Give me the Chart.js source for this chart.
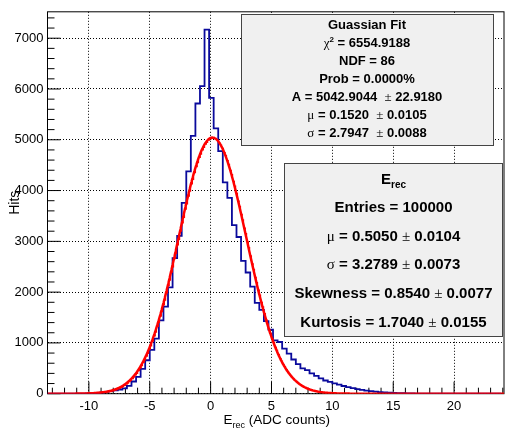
<!DOCTYPE html>
<html>
<head>
<meta charset="utf-8">
<script src="https://cdn.jsdelivr.net/npm/chart.js@4/dist/chart.umd.min.js"></script>
<style>
  html, body { margin: 0; padding: 0; background: #fff; }
  canvas { display: block; }
</style>
</head>
<body>
<canvas id="c" width="505" height="428"></canvas>
<script>
// E_rec histogram: bins of fixed width starting at binStart
const binStart = -13.625;
const binWidth = 0.375;
const hits = [
  0, 0, 0, 0, 0, 1, 1, 2, 3, 5,
  8, 14, 22, 35, 50, 68, 80, 105, 155, 240,
  333, 487, 659, 862, 1084, 1442, 1716, 2094, 2669, 3106,
  3757, 4378, 5076, 5714, 6057, 7170, 5826, 5225, 4775, 4162,
  3855, 3321, 3086, 2616, 2387, 2108, 1789, 1652, 1429, 1260,
  1051, 1018, 888, 790, 673, 581, 497, 464, 399, 352,
  301, 260, 232, 205, 180, 152, 128, 108, 92, 75,
  62, 50, 40, 32, 26, 20, 15, 12, 9, 6,
  5, 3, 2, 1, 0, 0, 0, 0, 0, 0,
  0, 0, 0, 0, 0, 0, 0, 0, 0, 0
];

// Axis ranges and labelled ticks
const xRange = [-13.4, 24.1];
const yRange = [0, 7520];
const xTickValues = [-10, -5, 0, 5, 10, 15, 20];
const yTickValues = [0, 1000, 2000, 3000, 4000, 5000, 6000, 7000];

// Gaussian fit result
const fitA = 5042.9044;
const fitMu = 0.1520;
const fitSigma = 2.7947;

// Stat box contents: [text, style]
const fitBoxLines = [
  [['Guassian Fit', 'b']],
  [['\u03C7', 'g'], ['2', 'sup'], [' = 6554.9188', 'b']],
  [['NDF = 86', 'b']],
  [['Prob = 0.0000%', 'b']],
  [['A = 5042.9044  ', 'b'], ['\u00B1', 'g'], [' 22.9180', 'b']],
  [['\u03BC', 'g'], [' = 0.1520  ', 'b'], ['\u00B1', 'g'], [' 0.0105', 'b']],
  [['\u03C3', 'g'], [' = 2.7947  ', 'b'], ['\u00B1', 'g'], [' 0.0088', 'b']]
];
const statBoxLines = [
  [['E', 'B'], ['rec', 'sub']],
  [['Entries = 100000', 'B']],
  [['\u03BC', 'G'], [' = 0.5050 ', 'B'], ['\u00B1', 'G'], [' 0.0104', 'B']],
  [['\u03C3', 'G'], [' = 3.2789 ', 'B'], ['\u00B1', 'G'], [' 0.0073', 'B']],
  [['Skewness = 0.8540 ', 'B'], ['\u00B1', 'G'], [' 0.0077', 'B']],
  [['Kurtosis = 1.7040 ', 'B'], ['\u00B1', 'G'], [' 0.0155', 'B']]
];
const xTitle = [['E', 't'], ['rec', 'tsub'], [' (ADC counts)', 't']];

const SANS = '"Liberation Sans", Arial, sans-serif';
const SERIF = '"Liberation Serif", "Times New Roman", serif';
const textStyles = {
  b:    { font: 'bold 13px ' + SANS, dy: 0 },
  g:    { font: '13px ' + SERIF, dy: 0 },
  sup:  { font: 'bold 8px ' + SANS, dy: -5 },
  B:    { font: 'bold 15px ' + SANS, dy: 0 },
  G:    { font: '15px ' + SERIF, dy: 0 },
  sub:  { font: 'bold 10px ' + SANS, dy: 4 },
  t:    { font: '13.5px ' + SANS, dy: 0 },
  tsub: { font: '9px ' + SANS, dy: 4 }
};

// Histogram outline points (step at each bin edge, closing at the last edge)
const histPoints = hits.map((h, i) => ({ x: binStart + i * binWidth, y: h }));
histPoints.push({ x: binStart + hits.length * binWidth, y: hits[hits.length - 1] });

// Fit curve evaluated from the fitted parameters
const fitPoints = [];
for (let x = xRange[0]; x <= xRange[1] + 1e-9; x += 0.05) {
  const z = (x - fitMu) / fitSigma;
  fitPoints.push({ x: x, y: fitA * Math.exp(-0.5 * z * z) });
}

function drawRich(ctx, segs, cx, baseline) {
  let total = 0;
  const widths = segs.map(([t, s]) => {
    ctx.font = textStyles[s].font;
    const w = ctx.measureText(t).width;
    total += w;
    return w;
  });
  let x = cx - total / 2;
  ctx.textAlign = 'left';
  ctx.textBaseline = 'alphabetic';
  segs.forEach(([t, s], i) => {
    ctx.font = textStyles[s].font;
    ctx.fillText(t, x, baseline + textStyles[s].dy);
    x += widths[i];
  });
}

function drawBox(ctx, x0, y0, x1, y1, lines, cx, firstBaseline, step) {
  ctx.fillStyle = '#f0f0f0';
  ctx.fillRect(x0, y0, x1 - x0, y1 - y0);
  ctx.strokeStyle = '#444';
  ctx.lineWidth = 1;
  ctx.strokeRect(x0 + 0.5, y0 + 0.5, x1 - x0 - 1, y1 - y0 - 1);
  ctx.fillStyle = '#000';
  lines.forEach((segs, i) => drawRich(ctx, segs, cx, firstBaseline + i * step));
}

// Frame, inward tick marks
const framePlugin = {
  id: 'frameTicks',
  beforeDatasetsDraw(chart) {
    const { ctx, chartArea: a, scales: { x, y } } = chart;
    ctx.save();
    ctx.strokeStyle = '#000';
    ctx.lineWidth = 1;
    ctx.beginPath();
    for (let v = Math.ceil(xRange[0]); v <= xRange[1]; v++) {
      const px = x.getPixelForValue(v);
      const len = v % 5 === 0 ? 12 : 6;
      ctx.moveTo(px, a.bottom);
      ctx.lineTo(px, a.bottom - len);
    }
    for (let v = 0; v <= yRange[1]; v += 200) {
      const py = y.getPixelForValue(v);
      const len = v % 1000 === 0 ? 13 : 7;
      ctx.moveTo(a.left, py);
      ctx.lineTo(a.left + len, py);
    }
    ctx.stroke();
    ctx.strokeRect(a.left, a.top, a.right - a.left, a.bottom - a.top);
    ctx.restore();
  },
  afterDraw(chart) {
    const { ctx, chartArea: a } = chart;
    ctx.save();
    drawBox(ctx, 241, 14, 494, 146, fitBoxLines, 367, 29.3, 18.0);
    drawBox(ctx, 284, 163, 503, 337, statBoxLines, 393.5, 183.5, 28.65);
    ctx.fillStyle = '#000';
    drawRich(ctx, xTitle, (a.left + a.right) / 2 + 1, 423.5);
    ctx.restore();
  }
};

new Chart(document.getElementById('c'), {
  type: 'line',
  data: {
    datasets: [
      {
        label: 'fit',
        data: fitPoints,
        borderColor: '#ff0000',
        borderWidth: 2.5,
        pointRadius: 0,
        tension: 0,
        fill: false,
        order: 0
      },
      {
        label: 'E_rec',
        data: histPoints,
        borderColor: '#0a0a9c',
        borderWidth: 1.8,
        pointRadius: 0,
        stepped: true,
        fill: false,
        order: 1
      }
    ]
  },
  options: {
    responsive: false,
    animation: false,
    devicePixelRatio: 1,
    layout: { padding: { top: 9.5, right: 1, left: 0, bottom: 0 } },
    plugins: { legend: { display: false }, tooltip: { enabled: false } },
    scales: {
      x: {
        type: 'linear',
        min: xRange[0],
        max: xRange[1],
        afterBuildTicks: (s) => { s.ticks = xTickValues.map(v => ({ value: v })); },
        afterFit: (s) => { s.height = 34.3; },
        grid: { color: '#000', lineWidth: 1, drawTicks: false },
        border: { display: false, dash: [1, 2] },
        ticks: {
          color: '#000',
          padding: 5,
          font: { family: SANS, size: 13 },
          callback: (v) => String(v)
        }
      },
      y: {
        type: 'linear',
        min: yRange[0],
        max: yRange[1],
        afterBuildTicks: (s) => { s.ticks = yTickValues.map(v => ({ value: v })); },
        afterFit: (s) => { s.width = 47.5; },
        grid: { color: '#000', lineWidth: 1, drawTicks: false },
        border: { display: false, dash: [1, 2] },
        title: {
          display: true,
          text: 'Hits',
          color: '#000',
          font: { family: SANS, size: 14 },
          padding: { top: 7, bottom: 0 }
        },
        ticks: {
          color: '#000',
          padding: 4,
          font: { family: SANS, size: 13 },
          callback: (v) => String(v)
        }
      }
    }
  },
  plugins: [framePlugin]
});
</script>
</body>
</html>
